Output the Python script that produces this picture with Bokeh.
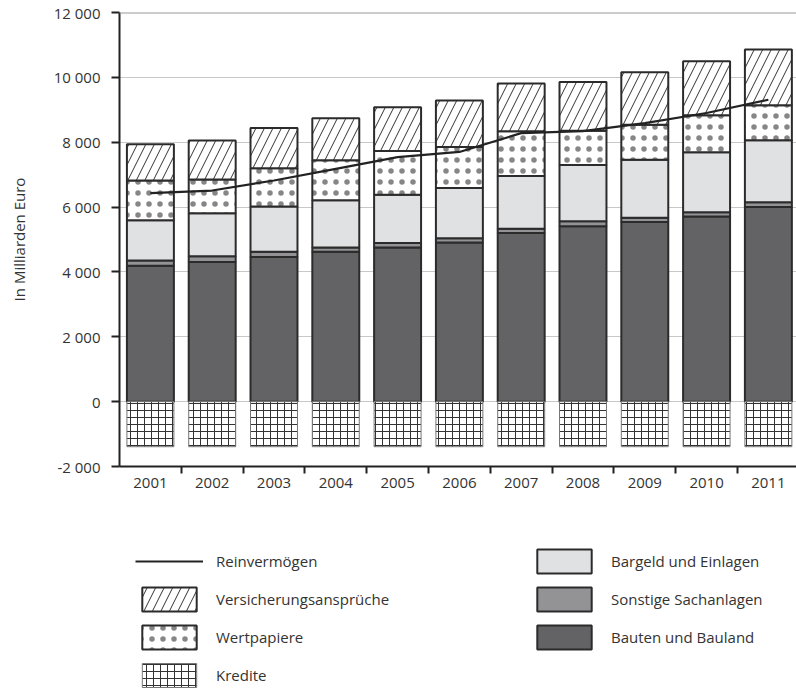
import numpy as np
from bokeh.plotting import figure
from bokeh.layouts import column
from bokeh.models import (ColumnDataSource, Range1d, FixedTicker, SingleIntervalTicker,
                          CustomJSTickFormatter, Legend, LegendItem, Span)
from bokeh.embed import file_html
from bokeh.resources import INLINE

years = ["2001", "2002", "2003", "2004", "2005", "2006", "2007", "2008", "2009", "2010", "2011"]
bauten = [4190, 4310, 4460, 4620, 4750, 4910, 5200, 5410, 5540, 5710, 6000]
sonstige = [160, 170, 160, 130, 140, 130, 130, 150, 130, 130, 150]
bargeld = [1240, 1330, 1400, 1460, 1490, 1550, 1630, 1740, 1790, 1850, 1910]
wertpapiere = [1230, 1040, 1180, 1230, 1350, 1260, 1380, 1050, 1080, 1140, 1080]
versicherung = [1120, 1200, 1240, 1300, 1350, 1440, 1470, 1510, 1620, 1670, 1720]
kredite = [-1390, -1390, -1390, -1390, -1390, -1390, -1390, -1390, -1390, -1390, -1390]
reinvermoegen = [6430, 6510, 6820, 7180, 7540, 7700, 8280, 8340, 8590, 8900, 9310]

layer_names = ["Bauten und Bauland", "Sonstige Sachanlagen", "Bargeld und Einlagen",
               "Wertpapiere", "Versicherungsansprüche"]
kredite_name = "Kredite"
line_name = "Reinvermögen"

y_min, y_max = -2000, 12000
FONT = "Open Sans"
TXT = "#333333"
EDGE = "#2b2b2b"

n = len(years)
xc = np.arange(n) + 0.5
layers = [bauten, sonstige, bargeld, wertpapiere, versicherung]
tops = np.cumsum(np.array(layers, dtype=float), axis=0)
bottoms = tops - np.array(layers, dtype=float)

p = figure(width=796, height=530, output_backend="svg", toolbar_location=None,
           x_range=Range1d(0, 10.955), y_range=Range1d(y_min, y_max),
           min_border_left=119, min_border_right=0, min_border_top=12, min_border_bottom=64)
p.outline_line_color = None
p.background_fill_color = "white"
p.border_fill_color = "white"

p.xgrid.visible = False
p.ygrid.grid_line_color = "#c8c8c8"
p.ygrid.grid_line_width = 1
p.ygrid.ticker = SingleIntervalTicker(interval=2000, num_minor_ticks=0)

p.add_layout(Span(location=y_max, dimension="width", line_color="#9a9a9a", line_width=2))

styles = [
    dict(fill_color="#636366", line_color=EDGE, line_width=2),
    dict(fill_color="#939396", line_color=EDGE, line_width=2),
    dict(fill_color="#e0e1e3", line_color=EDGE, line_width=2),
    dict(fill_color="white", line_color=EDGE, line_width=2,
         hatch_pattern="dot", hatch_scale=11, hatch_weight=0.5,
         hatch_color="#222222", hatch_alpha=0.55),
    dict(fill_color="white", line_color=EDGE, line_width=2,
         hatch_pattern="/", hatch_scale=17, hatch_weight=1, hatch_color="#333333"),
]
kstyle = dict(fill_color="white", line_color="#777777", line_width=1,
              hatch_pattern="+", hatch_scale=7, hatch_weight=1, hatch_color="#333333")
lstyle = dict(line_color="#222222", line_width=2.2)

sources = [ColumnDataSource(dict(x=xc, top=tops[i], bottom=bottoms[i])) for i in range(len(layers))]
ksrc = ColumnDataSource(dict(x=xc, top=np.zeros(n), bottom=np.array(kredite, dtype=float)))
lsrc = ColumnDataSource(dict(x=xc, y=np.array(reinvermoegen, dtype=float)))

width = 0.76
for i in range(len(layers)):
    p.vbar(x="x", top="top", bottom="bottom", width=width, source=sources[i], **styles[i])
p.vbar(x="x", top="top", bottom="bottom", width=width, source=ksrc, **kstyle)
p.line(x="x", y="y", source=lsrc, **lstyle)

# y axis
p.yaxis.ticker = SingleIntervalTicker(interval=2000, num_minor_ticks=0)
p.yaxis.formatter = CustomJSTickFormatter(code="return tick.toFixed(0).replace(/\\B(?=(\\d{3})+(?!\\d))/g, ' ');")
p.yaxis.axis_label = "In Milliarden Euro"
p.yaxis.axis_label_text_font = FONT
p.yaxis.axis_label_text_font_size = "15px"
p.yaxis.axis_label_text_font_style = "normal"
p.yaxis.axis_label_text_color = TXT
p.yaxis.axis_label_standoff = 22
p.yaxis.major_label_text_font = FONT
p.yaxis.major_label_text_font_size = "15px"
p.yaxis.major_label_text_color = TXT
p.yaxis.major_label_standoff = 11
p.yaxis.axis_line_color = "#222222"
p.yaxis.axis_line_width = 2
p.yaxis.major_tick_line_color = "#222222"
p.yaxis.major_tick_line_width = 2
p.yaxis.major_tick_out = 8
p.yaxis.major_tick_in = 0
p.yaxis.minor_tick_line_color = None

# x axis
p.xaxis.ticker = FixedTicker(ticks=list(xc), minor_ticks=list(range(1, n + 1)))
p.xaxis.major_label_overrides = {float(x): y for x, y in zip(xc, years)}
p.xaxis.major_label_text_font = FONT
p.xaxis.major_label_text_font_size = "15px"
p.xaxis.major_label_text_color = TXT
p.xaxis.major_label_standoff = 4
p.xaxis.axis_line_color = "#222222"
p.xaxis.axis_line_width = 2
p.xaxis.major_tick_line_color = None
p.xaxis.major_tick_out = 7
p.xaxis.major_tick_in = 0
p.xaxis.minor_tick_line_color = "#222222"
p.xaxis.minor_tick_line_width = 2
p.xaxis.minor_tick_out = 7
p.xaxis.minor_tick_in = 0

# legend in its own strip below the chart; its renderers share the chart's data but are hidden
lg = figure(width=796, height=160, output_backend="svg", toolbar_location=None,
            x_range=Range1d(0, 1), y_range=Range1d(0, 1),
            x_axis_location=None, y_axis_location=None,
            min_border=0, min_border_left=0, min_border_right=0,
            min_border_top=0, min_border_bottom=0)
lg.outline_line_color = None
lg.xgrid.visible = False
lg.ygrid.visible = False
sw = [lg.vbar(x="x", top="top", bottom="bottom", width=width, source=sources[i],
              visible=False, **styles[i]) for i in range(len(layers))]
swk = lg.vbar(x="x", top="top", bottom="bottom", width=width, source=ksrc,
              visible=False, **kstyle)
swl = lg.line(x="x", y="y", source=lsrc, visible=False, **lstyle)

items = [
    LegendItem(label=line_name, renderers=[swl]),
    LegendItem(label=layer_names[4], renderers=[sw[4]]),
    LegendItem(label=layer_names[3], renderers=[sw[3]]),
    LegendItem(label=kredite_name, renderers=[swk]),
    LegendItem(label=layer_names[2], renderers=[sw[2]]),
    LegendItem(label=layer_names[1], renderers=[sw[1]]),
    LegendItem(label=layer_names[0], renderers=[sw[0]]),
]
legend = Legend(items=items, location=(16, 0), orientation="vertical", nrows=4,
                glyph_width=68, glyph_height=30, spacing=8, label_standoff=13,
                label_width=306, padding=0, margin=0, border_line_color=None,
                background_fill_alpha=0, inactive_fill_alpha=0,
                label_text_font=FONT, label_text_font_size="15px",
                label_text_color=TXT, click_policy="none")
lg.add_layout(legend, "center")

layout = column(p, lg, spacing=0)
open("out.html", "w").write(file_html(layout, INLINE))
